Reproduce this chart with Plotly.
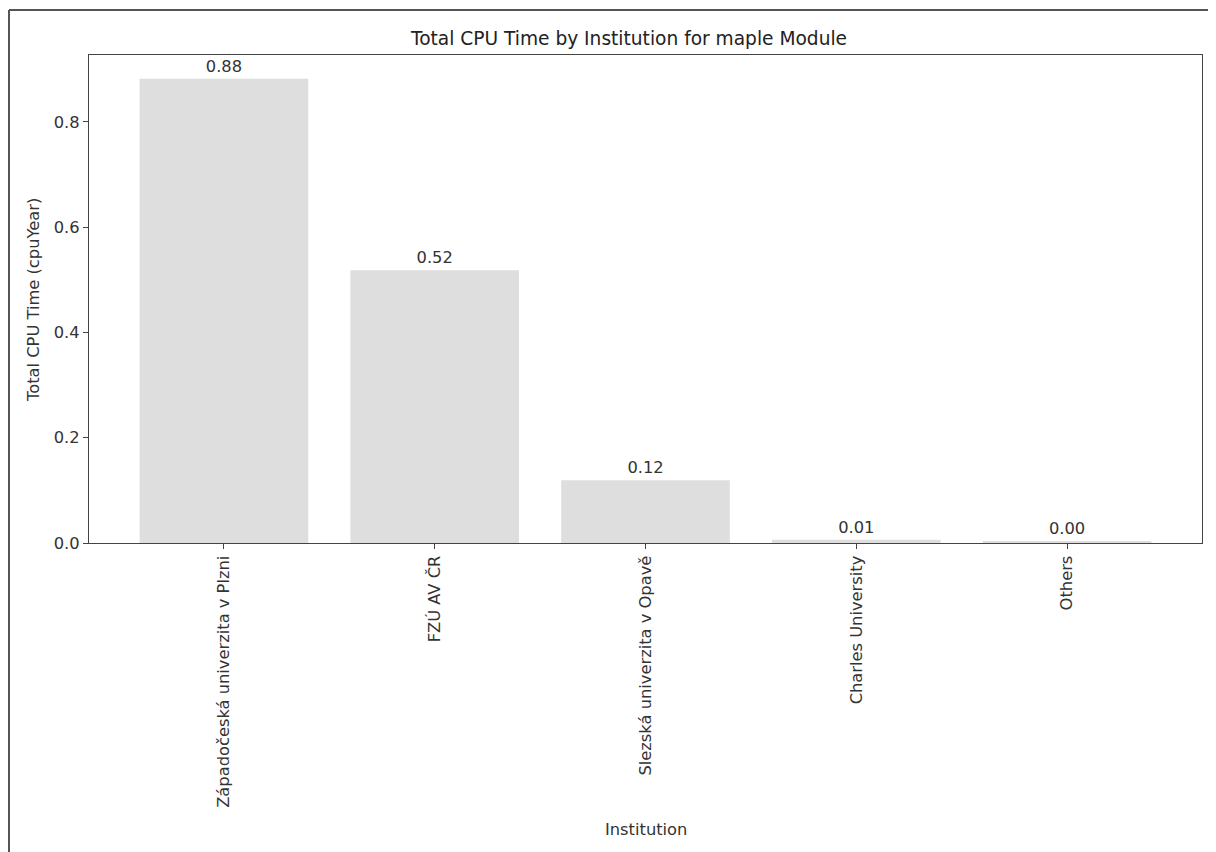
import plotly.graph_objects as go

institutions = ["Západočeská univerzita v Plzni", "FZÚ AV ČR", "Slezská univerzita v Opavě",
                "Charles University", "Others"]
cpu_years = [0.882, 0.518, 0.119, 0.006, 0.002]
y_ticks = [0.0, 0.2, 0.4, 0.6, 0.8]

# page has an 8px body margin; work in figure coordinates
OFF = 8
W, H = 1216 - OFF, 852 - OFF
L, R, T, B = 89 - OFF, 1202 - OFF, 55 - OFF, 543 - OFF
FS = 16.3
TXT = "#333333"

fig = go.Figure(go.Bar(
    x=list(range(len(institutions))), y=cpu_years, width=0.8,
    marker=dict(color="#dedede", line=dict(width=0)),
    texttemplate="%{y:.2f}", textposition="outside", cliponaxis=False,
    textfont=dict(size=FS, color=TXT),
))

ax_common = dict(showline=True, linecolor="#444444", linewidth=1.3, mirror=True,
                 ticks="outside", ticklen=5, tickcolor="#444444", showgrid=False,
                 zeroline=False, tickfont=dict(size=FS, color=TXT))

fig.update_layout(
    width=W, height=H,
    margin=dict(l=L, r=W - R, t=T, b=H - B, autoexpand=False),
    paper_bgcolor="white", plot_bgcolor="white",
    font=dict(family="DejaVu Sans", color=TXT),
    title=dict(text="Total CPU Time by Institution for maple Module", x=(629 - OFF) / W,
               xanchor="center", y=1 - (38 - OFF) / H, yanchor="middle",
               font=dict(size=18.6, color="#222222")),
    xaxis=dict(**ax_common, range=[-0.64, 4.64], tickmode="array",
               tickvals=list(range(len(institutions))), ticktext=institutions, tickangle=-90),
    yaxis=dict(**ax_common, range=[0, 0.927], tickmode="array", tickvals=y_ticks,
               ticktext=[f"{v:.1f}" for v in y_ticks]),
    showlegend=False,
)

px = lambda v: (v - OFF - L) / (R - L)
py = lambda v: (B - (v - OFF)) / (B - T)

# axis titles
fig.add_annotation(text="Institution", xref="paper", yref="paper", x=0.5, y=py(829),
                   xanchor="center", yanchor="middle", showarrow=False, font=dict(size=FS, color=TXT))
fig.add_annotation(text="Total CPU Time (cpuYear)", xref="paper", yref="paper", x=px(33), y=py(300),
                   xanchor="center", yanchor="middle", textangle=-90, showarrow=False,
                   font=dict(size=FS, color=TXT))

# figure border (left and top edges)
fig.add_shape(type="line", xref="paper", yref="paper", x0=px(9), x1=px(9), y0=py(10), y1=py(860),
              line=dict(color="#555555", width=2))
fig.add_shape(type="line", xref="paper", yref="paper", x0=px(9), x1=px(1220), y0=py(10), y1=py(10),
              line=dict(color="#555555", width=2))

fig.write_html("out.html")
